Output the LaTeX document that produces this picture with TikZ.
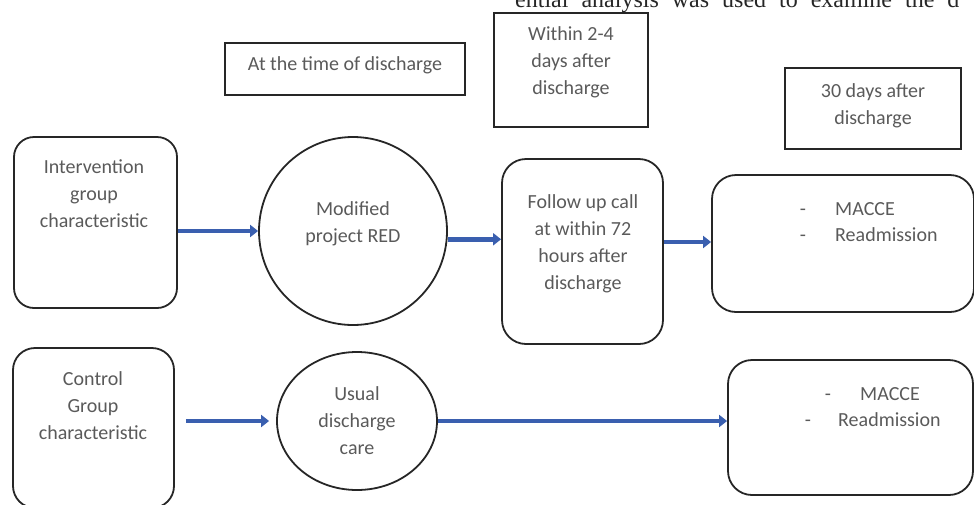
\documentclass[tikz,border=0pt]{standalone}
\usepackage{fontspec}
\setmainfont{Carlito}
\newfontfamily\serifpage{Liberation Serif}
\usetikzlibrary{arrows.meta,shapes.geometric}
\definecolor{txtgray}{HTML}{5A5A5A}
\definecolor{arrowblue}{HTML}{3A5FAF}
\begin{document}
\begin{tikzpicture}[x=1pt,y=-1pt,
  lbl/.style={font=\fontsize{20}{27}\selectfont, text=txtgray, align=center, inner sep=0pt},
  item/.style={lbl, text height=14pt, text depth=4pt},
  sqbox/.style={draw=black!85, line width=1.8pt, inner sep=0pt},
  rbox/.style={draw=black!85, line width=1.8pt, inner sep=0pt, rounded corners=24pt},
  rnd/.style={draw=black!85, line width=1.8pt, inner sep=0pt},
  conn/.style={draw=arrowblue, line width=4.5pt, -{Triangle[length=8pt,width=12pt]}}
]
\useasboundingbox (0,0) rectangle (974,504);
\clip (0,0) rectangle (974,504);
% clipped page text at the top
\node[anchor=base west, inner sep=0pt, text=black!85, font=\serifpage\fontsize{24}{24}\selectfont] (pagetext) at (515,7) {\spaceskip=13pt ential analysis was used to examine the d};

% time boxes
\node[sqbox, minimum width=240pt, minimum height=52pt] (t1) at (345,69) {};
\node[lbl] (t1t) at (345,65) {At the time of discharge};
\node[sqbox, minimum width=154pt, minimum height=114pt] (t2) at (571,70) {};
\node[lbl] (t2t) at (571,62) {Within 2-4\\days after\\discharge};
\node[sqbox, minimum width=176pt, minimum height=81pt] (t3) at (873,108.5) {};
\node[lbl] (t3t) at (873,106) {30 days after\\discharge};

% intervention row
\node[rbox, rounded corners=20pt, minimum width=163pt, minimum height=171pt] (int) at (95.5,222.5) {};
\node[lbl] (intt) at (94,194) {Intervention\\group\\characteristic};
\node[rnd, circle, minimum size=188pt] (mod) at (353,231) {};
\node[lbl] (modt) at (353,224) {Modified\\project RED};
\node[rbox, minimum width=161pt, minimum height=185pt] (fol) at (582.5,251.5) {};
\node[lbl] (folt) at (583,244) {Follow up call\\at within 72\\hours after\\discharge};
\node[rbox, minimum width=262pt, minimum height=137pt] (m1) at (843,243.5) {};
\node[item] (m1d1) at (803,210) {-};
\node[item, anchor=west] (m1a) at (835,210) {MACCE};
\node[item] (m1d2) at (803,236) {-};
\node[item, anchor=west] (m1b) at (835,236) {Readmission};

% control row
\node[rbox, rounded corners=22pt, minimum width=161pt, minimum height=160pt] (con) at (93.5,428) {};
\node[lbl] (cont) at (93,406) {Control\\Group\\characteristic};
\node[rnd, ellipse, minimum width=160pt, minimum height=138pt] (usu) at (357,421) {};
\node[lbl] (usut) at (357,421) {Usual\\discharge\\care};
\node[rbox, minimum width=245pt, minimum height=135pt] (m2) at (850.5,427.5) {};
\node[item] (m2d1) at (828,395) {-};
\node[item, anchor=west] (m2a) at (860,395) {MACCE};
\node[item] (m2d2) at (808,421) {-};
\node[item, anchor=west] (m2b) at (838,421) {Readmission};

% connectors
\draw[conn] (int.east |- mod.west) -- (mod.west);
\draw[conn] (mod.-5.5) -- (mod.-5.5 -| fol.west);
\draw[conn] (fol.east |- 0,242) -- (m1.west |- 0,242);
\draw[conn, shorten <=11pt, shorten >=7pt] (con.east |- usu.west) -- (usu.west);
\draw[conn] (usu.east) -- (m2.west |- usu.east);
\end{tikzpicture}
\end{document}
